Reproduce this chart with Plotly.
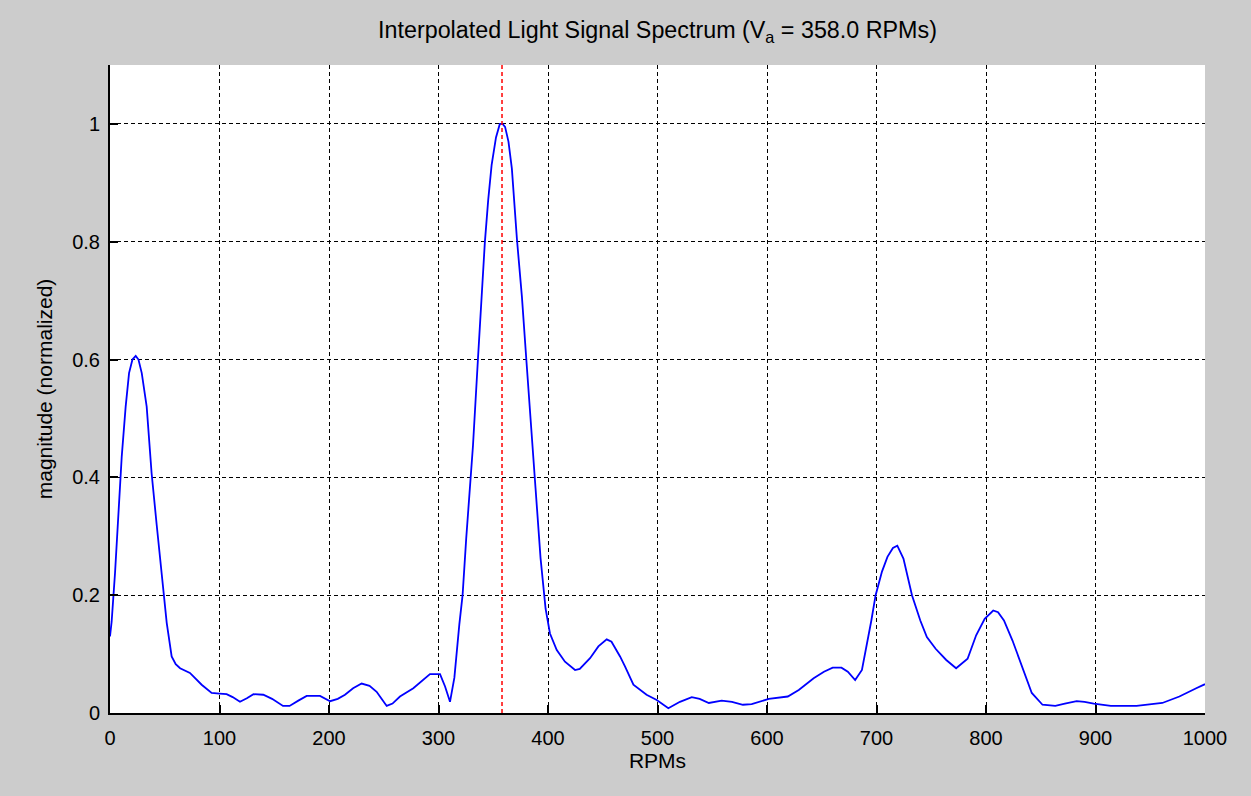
import plotly.graph_objects as go

# Spectrum samples (RPM, normalized magnitude)
rpm = [0, 1.5, 4.6, 8.2, 10.7, 14.3, 17.4, 20.5, 23.5, 26, 29, 33.5, 38, 42.6, 47.2, 51.8,
       56.3, 60, 64, 73, 83.7, 92.8, 100, 106.5, 112, 118.7, 125, 131, 140, 148, 158, 164,
       172, 179.6, 191.8, 201, 208, 214.6, 222, 229.8, 237, 243.5, 248, 252.7, 258, 264.8,
       277, 285, 292.2, 301.4, 306, 310.5, 314.5, 319, 322, 325.3, 328.4, 331.5, 336, 339.2,
       342.3, 345.4, 348.5, 352.5, 356, 358.5, 360.8, 363.9, 367, 371.6, 376.2, 380.2, 384,
       388.6, 393.2, 397.8, 401.8, 408, 415.5, 424.7, 429, 438.4, 446, 453.6, 458, 465.8,
       470.3, 478, 490, 499.3, 509.9, 520.5, 531.3, 538.5, 546.9, 558.6, 568, 578, 586,
       601.6, 619, 629, 642.6, 652, 660, 668, 673.8, 680.5, 686.7, 691.4, 695.3, 699.2, 705,
       710, 715, 719, 724.6, 732.4, 740, 746, 754, 763.7, 772.7, 783.2, 791, 798.8, 806.6,
       811, 816.4, 824.2, 832, 841.8, 851.6, 863.3, 872, 882.8, 890, 898.4, 914, 937.5, 961,
       976.6, 992, 1000]
magnitude = [0.13, 0.155, 0.238, 0.35, 0.435, 0.52, 0.577, 0.600, 0.606, 0.600, 0.577, 0.52,
             0.407, 0.32, 0.238, 0.153, 0.096, 0.083, 0.076, 0.068, 0.048, 0.034, 0.033, 0.032,
             0.027, 0.019, 0.025, 0.032, 0.031, 0.024, 0.012, 0.012, 0.021, 0.029, 0.029, 0.020,
             0.024, 0.031, 0.042, 0.05, 0.046, 0.036, 0.024, 0.012, 0.016, 0.028, 0.042, 0.055,
             0.066, 0.066, 0.045, 0.019, 0.06, 0.15, 0.2, 0.296, 0.368, 0.454, 0.6, 0.699, 0.798,
             0.871, 0.93, 0.977, 1.0, 1.0, 0.995, 0.97, 0.924, 0.805, 0.706, 0.6, 0.494, 0.382,
             0.263, 0.177, 0.135, 0.107, 0.087, 0.073, 0.075, 0.093, 0.113, 0.125, 0.121, 0.096,
             0.079, 0.048, 0.031, 0.022, 0.008, 0.019, 0.027, 0.024, 0.017, 0.021, 0.019, 0.014,
             0.015, 0.024, 0.028, 0.039, 0.059, 0.07, 0.077, 0.077, 0.07, 0.056, 0.073, 0.118,
             0.157, 0.2, 0.24, 0.265, 0.28, 0.284, 0.262, 0.2, 0.157, 0.129, 0.109, 0.09, 0.076,
             0.092, 0.132, 0.16, 0.174, 0.171, 0.157, 0.123, 0.084, 0.034, 0.014, 0.012, 0.016,
             0.02, 0.019, 0.016, 0.012, 0.012, 0.017, 0.028, 0.042, 0.049]

va_rpm = 358.0
marker_x = [va_rpm, va_rpm]
marker_y = [0, 1.1]

x_ticks = [0, 100, 200, 300, 400, 500, 600, 700, 800, 900, 1000]
y_ticks = [0, 0.2, 0.4, 0.6, 0.8, 1]
y_tick_text = ["0", "0.2", "0.4", "0.6", "0.8", "1"]

FONT = "Liberation Sans, Arial, sans-serif"

fig = go.Figure()
fig.add_trace(go.Scatter(x=rpm, y=magnitude, mode="lines",
                         line=dict(color="#0000ff", width=1.8), showlegend=False,
                         hoverinfo="x+y"))
fig.add_trace(go.Scatter(x=marker_x, y=marker_y, mode="lines",
                         line=dict(color="#ff0000", width=1.5, dash="4px,3px"),
                         showlegend=False))

axis_common = dict(
    showline=True, linecolor="black", linewidth=2, mirror=False,
    ticks="inside", ticklen=8, tickwidth=1.5, tickcolor="black",
    showgrid=True, gridcolor="black", gridwidth=1.2, griddash="4px,3px",
    zeroline=False, tickfont=dict(family=FONT, size=20, color="black"),
)

fig.update_layout(
    width=1251, height=796,
    paper_bgcolor="#cccccc", plot_bgcolor="white",
    margin=dict(l=110, r=46, t=65, b=83),
    title=dict(text="Interpolated Light Signal Spectrum (V<sub>a</sub> = 358.0 RPMs)",
               x=0.5, xref="paper", xanchor="center",
               y=1 - 30 / 796, yref="container", yanchor="middle",
               font=dict(family=FONT, size=23.3, color="black")),
    xaxis=dict(range=[0, 1000], tickvals=x_ticks, ticklabelstandoff=6,
               title=dict(text="RPMs", standoff=4, font=dict(family=FONT, size=21, color="black")),
               **axis_common),
    yaxis=dict(range=[0, 1.1], tickvals=y_ticks, ticktext=y_tick_text, ticklabelstandoff=4,
               title=dict(text="magnitude (normalized)", standoff=14,
                          font=dict(family=FONT, size=21, color="black")),
               **axis_common),
)

fig.write_html("out.html")
